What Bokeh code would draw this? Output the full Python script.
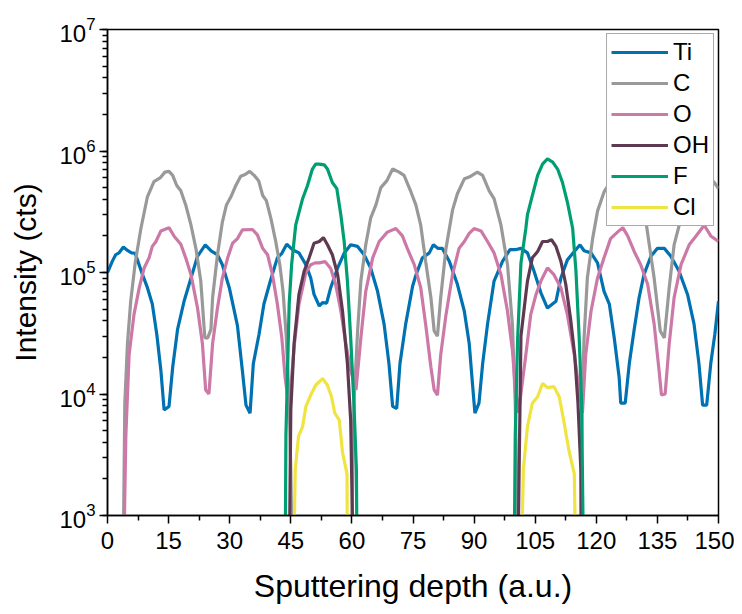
import math
from bokeh.plotting import figure
from bokeh.models import FixedTicker, LogTicker, Legend
from bokeh.embed import file_html
from bokeh.resources import INLINE

NaN = float("nan")

ti_x = [0, 1.2, 2.0, 2.9, 3.9, 4.9, 5.9, 6.8, 7.6, 8.6, 9.8, 11.0, 12.1, 13.1, 13.9, 15.1, 16.0, 17.2, 18.8, 20.5,
        22.1, 24.0, 25.5, 27.0, 28.2, 29.9, 31.9, 33.1, 34.0, 35.0, 35.8, 37.2, 38.4, 40.1, 41.7, 42.8, 44.0, 45.4,
        47.0, 48.7, 49.9, 50.7, 52.0, 52.8, 53.8, 54.8, 56.5, 58.1, 59.7, 61.4, 63.0, 64.6, 66.3, 67.9, 69.1, 70.0,
        71.0, 71.8, 73.2, 74.9, 75.7, 77.3, 79.0, 80.0, 81.1, 82.2, 83.9, 85.9, 87.6, 88.8, 89.6, 90.2, 91.2, 92.1,
        93.3, 94.9, 97.0, 98.8, 100.1, 101.5, 103.1, 104.7, 106.4, 108.0, 110.1, 111.3, 112.9, 114.6, 116.0, 117.0,
        118.7, 120.3, 121.9, 123.2, 124.4, 125.6, 126.0, 127.1, 128.1, 129.3, 130.5, 131.7, 133.4, 135.0, 136.7,
        138.3, 140.3, 142.4, 144.0, 145.2, 146.1, 147.1, 148.1, 149.1, 150.0]
ti_y = [1.0e5, 1.24e5, 1.4e5, 1.46e5, 1.62e5, 1.52e5, 1.45e5, 1.44e5, 1.2e5, 9.6e4, 7.5e4, 5.5e4, 3.1e4, 1.57e4, 7.4e3,
        7.9e3, 1.66e4, 3.4e4, 5.8e4, 9.0e4, 1.36e5, 1.69e5, 1.5e5, 1.40e5, 1.16e5, 7.5e4, 3.65e4, 1.57e4, 8.1e3,
        6.95e3, 1.78e4, 3.1e4, 5.5e4, 8.8e4, 1.32e5, 1.44e5, 1.71e5, 1.54e5, 1.45e5, 1.16e5, 9e4, 6.6e4, 5.3e4,
        5.65e4, 5.6e4, 7.5e4, 1.09e5, 1.44e5, 1.69e5, 1.64e5, 1.4e5, 1.09e5, 7.0e4, 3.76e4, 1.78e4, 7.9e3, 7.6e3,
        1.78e4, 3.76e4, 7.7e4, 9.5e4, 1.32e5, 1.45e5, 1.69e5, 1.58e5, 1.58e5, 1.24e5, 8.0e4, 4.8e4, 2.6e4, 1.22e4,
        6.95e3, 8.4e3, 1.78e4, 3.76e4, 8.5e4, 1.24e5, 1.54e5, 1.54e5, 1.58e5, 1.45e5, 1.03e5, 6.8e4, 5.1e4, 5.8e4,
        9e4, 1.27e5, 1.49e5, 1.69e5, 1.51e5, 1.45e5, 1.2e5, 7.0e4, 5.5e4, 2.9e4, 1.38e4, 8.4e3, 8.4e3, 1.78e4,
        3.4e4, 6.2e4, 9.6e4, 1.36e5, 1.58e5, 1.58e5, 1.36e5, 1.03e5, 6.6e4, 3.76e4, 1.78e4, 8.1e3, 8.1e3, 1.78e4,
        3.1e4, 5.8e4]

c_x = [3.8, 4.25, 4.9, 5.7, 6.8, 8.2, 9.8, 11.4, 12.9, 14.1, 15.1, 16.0, 17.0, 18.0, 19.2, 20.5, 21.7, 22.9, 23.9,
       24.6, 25.4, 25.8, 27.0, 28.2, 29.2, 30.3, 31.5, 32.7, 33.8, 34.9, 36.0, 37.1, 38.1, 39.0, 40.1, 41.3, 42.3,
       43.1, 43.9, 44.6, 45.0, 45.4, NaN,
       59.8, 60.5, 61.4, 62.2, 63.4, 64.6, 65.9, 67.1, 68.6, 70.0, 71.6, 72.8, 74.5, 75.7, 76.9, 78.1, 79.4, 80.2,
       81.0, 81.8, 83.1, 84.7, 85.9, 87.6, 88.8, 90.8, 92.1, 93.7, 94.9, 96.6, 98.2, 99.4, 100.1, 100.4, 100.7, NaN,
       116.0, 116.5, 117.0, 117.8, 119.1, 120.3, 121.9, 123.5, 125.5, 127.0, 128.5, 130.5, 132.2, 134.2, 135.7,
       136.7, 137.9, 139.1, 140.8, 142.5, 144.5, 146.5, 148.9, 150.0]
c_y = [3e2, 8.4e3, 2.6e4, 5.8e4, 1.2e5, 2.3e5, 4.2e5, 5.6e5, 6.0e5, 6.7e5, 6.8e5, 6.3e5, 5.2e5, 4.7e5, 3.6e5, 2.45e5,
       1.58e5, 8.5e4, 2.9e4, 2.9e4, 3.4e4, 6.2e4, 1.4e5, 2.6e5, 3.6e5, 4.2e5, 5.2e5, 6.2e5, 6.4e5, 6.8e5, 6.3e5,
       5.7e5, 4.3e5, 3.9e5, 2.8e5, 1.8e5, 1.16e5, 7e4, 2.9e4, 8.4e3, 2.4e3, 3e2, NaN,
       3e2, 8.4e3, 3.3e4, 8.5e4, 1.69e5, 2.8e5, 3.6e5, 5.0e5, 5.7e5, 7.1e5, 6.7e5, 6.3e5, 4.6e5, 3.6e5, 2.45e5,
       1.24e5, 6.2e4, 3.3e4, 3.0e4, 6.2e4, 1.58e5, 3.26e5, 4.45e5, 5.9e5, 6.1e5, 6.7e5, 6.3e5, 4.7e5, 4.05e5,
       2.45e5, 1.16e5, 3.76e4, 8.4e3, 2.4e3, 3e2, NaN,
       3e2, 8.4e3, 2.9e4, 9e4, 1.9e5, 3.2e5, 4.6e5, 5.6e5, 6.6e5, 6.5e5, 5.5e5, 4.2e5, 2.6e5, 9e4, 3.3e4, 2.9e4,
       7.5e4, 1.69e5, 2.8e5, 4.2e5, 5.8e5, 6.6e5, 5.55e5, 4.9e5]

o_x = [3.9, 4.5, 5.3, 6.5, 7.8, 9.0, 10.2, 11.0, 11.9, 13.1, 15.1, 16.4, 18.0, 19.2, 20.5, 22.1, 23.3, 24.1, 24.9,
       25.8, 27.0, 28.2, 29.5, 30.7, 31.9, 33.1, 35.6, 36.8, 38.1, 39.3, 40.5, 41.7, 42.8, 43.6, 44.4, 45.0, 45.9,
       47.0, 47.9, 48.7, 49.9, 51.0, 52.0, 53.4, 54.8, 56.0, 57.3, 58.5, 59.7, 61.0, 62.2, 63.4, 65.1, 66.7, 68.7,
       70.8, 72.4, 73.6, 75.3, 76.9, 78.1, 79.4, 80.2, 81.0, 81.8, 83.1, 84.7, 86.3, 87.6, 88.8, 90.0, 91.7, 93.3,
       94.9, 96.6, 98.2, 99.4, 100.1, 100.9, 102.7, 103.9, 105.2, 106.4, 108.0, 109.6, 111.3, 112.9, 114.6, 115.8,
       116.6, 117.4, 118.7, 120.3, 121.9, 123.5, 125.2, 126.5, 127.7, 129.3, 130.9, 132.6, 134.2, 135.4, 136.0,
       136.9, 137.9, 139.1, 140.8, 142.8, 144.4, 146.5, 148.1, 150.0]
o_y = [3e2, 4.5e3, 2.1e4, 4.5e4, 7.5e4, 1.09e5, 1.32e5, 1.64e5, 1.8e5, 2.2e5, 2.34e5, 1.98e5, 1.71e5, 1.32e5, 9.6e4,
       5.1e4, 2.6e4, 1.08e4, 1.0e4, 2.6e4, 5.1e4, 9e4, 1.32e5, 1.74e5, 1.9e5, 2.24e5, 2.26e5, 2.04e5, 1.58e5, 1.4e5,
       9.6e4, 5.5e4, 2.9e4, 1.38e4, 8.5e3, 1.15e4, 2.6e4, 5.5e4, 7.5e4, 1.0e5, 1.16e5, 1.2e5, 1.2e5, 1.23e5, 1.08e5,
       8e4, 4.8e4, 2.6e4, 1.57e4, 1.08e4, 2.9e4, 7e4, 1.32e5, 1.8e5, 2.15e5, 2.3e5, 2.0e5, 1.58e5, 1.16e5, 7.5e4,
       3.76e4, 1.66e4, 1.08e4, 9.8e3, 2.1e4, 4.5e4, 9.6e4, 1.58e5, 1.8e5, 2.1e5, 2.3e5, 2.2e5, 1.8e5, 1.45e5, 9.6e4,
       4.8e4, 2.3e4, 1.15e4, 7e3, 2.1e4, 4.5e4, 6.6e4, 8.5e4, 1.09e5, 9.6e4, 7.5e4, 4.5e4, 2.1e4, 1.08e4, 7e3,
       2.1e4, 4.8e4, 9e4, 1.32e5, 1.9e5, 2.15e5, 2.34e5, 2.0e5, 1.49e5, 1.16e5, 8e4, 3.76e4, 1.57e4, 9.8e3, 1.0e4,
       2.6e4, 6.2e4, 1.16e5, 1.69e5, 1.98e5, 2.45e5, 2.0e5, 1.8e5]

oh_x = [44.6, 45.0, 45.8, 47.0, 48.3, 49.5, 50.7, 52.0, 53.0, 54.0, 55.2, 56.5, 57.7, 58.9, 59.7, 60.4, NaN,
        100.7, 101.5, 102.7, 103.1, 104.3, 105.6, 106.8, 108.0, 109.0, 110.1, 111.3, 112.5, 113.7, 114.7, 115.5,
        116.2, 116.5]
oh_y = [3e2, 7.4e3, 2.6e4, 6.6e4, 1.03e5, 1.32e5, 1.74e5, 1.8e5, 1.94e5, 1.69e5, 1.4e5, 9.6e4, 4.8e4, 1.78e4, 6.1e3,
        3e2, NaN,
        3e2, 3.0e4, 6.6e4, 8.5e4, 1.32e5, 1.49e5, 1.8e5, 1.8e5, 1.86e5, 1.64e5, 1.24e5, 8e4, 4.1e4, 2.1e4, 8.4e3,
        2.4e3, 3e2]

f_x = [43.6, 43.8, 44.2, 44.6, 45.2, 46.2, 47.9, 49.1, 50.3, 51.1, 52.0, 53.2, 54.0, 55.2, 56.3, 57.3, 58.1, 58.9,
       59.7, 60.5, 61.1, 61.3, NaN,
       99.8, 100.1, 100.7, 101.5, 102.7, 103.1, 104.3, 105.6, 106.8, 108.0, 109.3, 110.5, 111.7, 112.9, 114.2,
       115.0, 115.8, 116.4, 116.9]
f_y = [3e2, 4.5e3, 1.57e4, 5.5e4, 1.16e5, 2.45e5, 4.05e5, 5.2e5, 7.1e5, 7.8e5, 7.8e5, 7.7e5, 7.1e5, 5.5e5, 4.9e5,
       2.96e5, 1.8e5, 8.5e4, 2.9e4, 8.4e3, 2.4e3, 3e2, NaN,
       3e2, 4.5e3, 2.9e4, 1.2e5, 2.3e5, 3.0e5, 4.3e5, 6.3e5, 7.8e5, 8.6e5, 8.1e5, 7.1e5, 5.5e5, 3.8e5, 2.3e5,
       1.03e5, 2.9e4, 8.4e3, 3e2]

cl_x = [45.6, 46.1, 46.9, 47.9, 48.7, 49.9, 51.1, 52.8, 54.0, 55.0, 55.8, 56.9, 57.7, 58.8, 58.9, NaN,
        101.5, 102.1, 103.1, 104.3, 105.6, 106.8, 108.0, 109.6, 110.9, 112.1, 113.3, 114.6, 115.0]
cl_y = [3e2, 2.4e3, 4.5e3, 5.4e3, 7.9e3, 9.8e3, 1.18e4, 1.34e4, 1.18e4, 9.5e3, 6.95e3, 6.1e3, 3.3e3, 2.2e3, 3e2, NaN,
        3e2, 2.4e3, 5.4e3, 8.4e3, 9.5e3, 1.22e4, 1.13e4, 1.15e4, 9.5e3, 5.8e3, 3.4e3, 2.2e3, 3e2]

x_ticks = [0, 15, 30, 45, 60, 75, 90, 105, 120, 135, 150]
x_minor = [7.5, 22.5, 37.5, 52.5, 67.5, 82.5, 97.5, 112.5, 127.5, 142.5]

series = [
    ("Ti", ti_x, ti_y, "#0072B2"),
    ("C", c_x, c_y, "#999999"),
    ("O", o_x, o_y, "#CC79A7"),
    ("OH", oh_x, oh_y, "#5E3A52"),
    ("F", f_x, f_y, "#009E73"),
    ("Cl", cl_x, cl_y, "#F0E442"),
]

FONT = "Liberation Sans"

p = figure(width=734, height=606, y_axis_type="log", x_range=(0, 150), y_range=(1e3, 1e7),
           output_backend="svg", toolbar_location=None,
           min_border_left=107, min_border_right=16, min_border_top=29, min_border_bottom=86)
p.xgrid.visible = False
p.ygrid.visible = False
p.outline_line_color = "black"
p.outline_line_width = 1.5
p.background_fill_color = "white"
p.border_fill_color = "white"

for name, xs, ys, col in series:
    p.line(xs, ys, line_color=col, line_width=3.2, legend_label=name)

p.xaxis.ticker = FixedTicker(ticks=x_ticks, minor_ticks=x_minor)
p.yaxis.ticker = LogTicker(num_minor_ticks=10)

for ax in (p.xaxis[0], p.yaxis[0]):
    ax.axis_line_width = 1.5
    ax.major_tick_line_width = 1.5
    ax.minor_tick_line_width = 1.5
    ax.major_tick_in = 0
    ax.major_tick_out = 8
    ax.minor_tick_in = 0
    ax.minor_tick_out = 5
    ax.major_label_text_font = FONT
    ax.major_label_text_font_size = "24px"
    ax.major_label_text_color = "black"
    ax.axis_label_text_font = FONT
    ax.axis_label_text_font_style = "normal"
    ax.axis_label_text_color = "black"

p.xaxis.axis_label_text_font_size = "32px"
p.yaxis.axis_label_text_font_size = "30px"
p.xaxis.axis_label = "Sputtering depth (a.u.)"
p.yaxis.axis_label = "Intensity (cts)"
p.xaxis.major_label_standoff = 8
p.xaxis.axis_label_standoff = 16
p.yaxis.major_label_standoff = 4
p.yaxis.axis_label_standoff = 14

lg = p.legend[0]
lg.location = "top_right"
lg.margin = 4
lg.padding = 4
lg.spacing = 3
lg.glyph_width = 57
lg.glyph_height = 24
lg.label_standoff = 5
lg.label_text_font = FONT
lg.label_text_font_size = "24px"
lg.label_text_color = "black"
lg.border_line_color = "#555555"
lg.border_line_width = 1
lg.background_fill_alpha = 1.0

open("out.html", "w").write(file_html(p, INLINE))
